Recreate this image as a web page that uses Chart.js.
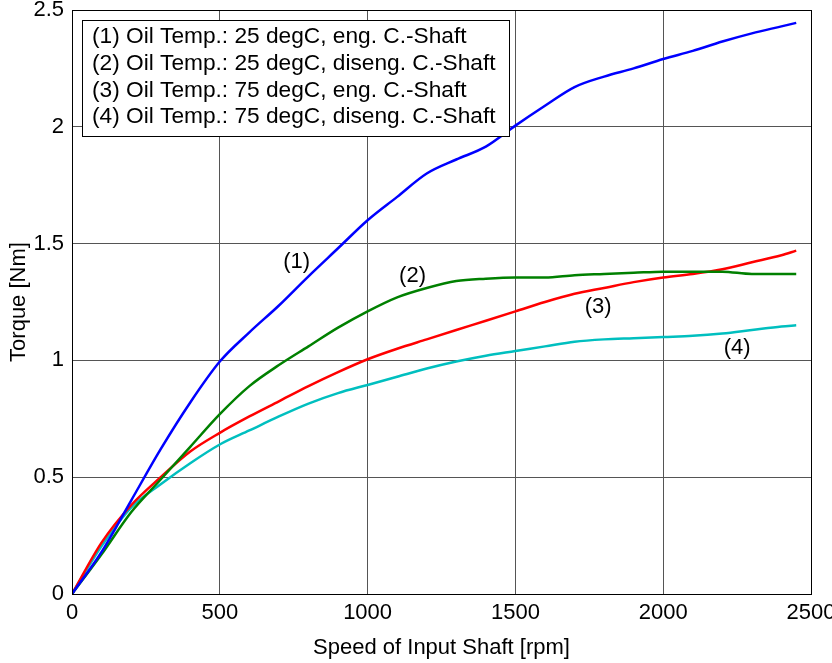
<!DOCTYPE html>
<html>
<head>
<meta charset="utf-8">
<script src="https://cdn.jsdelivr.net/npm/chart.js@4/dist/chart.umd.min.js"></script>
<style>
  html, body { margin: 0; padding: 0; background: #fff; }
  #wrap { width: 832px; height: 663px; position: relative; }
</style>
</head>
<body>
<div id="wrap"><canvas id="chart"></canvas></div>
<script>
// speed of input shaft [rpm]
const speeds = [0, 100, 200, 300, 400, 500, 600, 700, 800, 900, 1000, 1100, 1200, 1300,
                1400, 1500, 1600, 1700, 1800, 1900, 2000, 2100, 2200, 2300, 2400, 2450];

// torque [Nm]
const torque1 = [0, 0.18, 0.40, 0.62, 0.82, 0.995, 1.12, 1.235, 1.36, 1.48, 1.60, 1.70, 1.80, 1.86,
                 1.915, 2.005, 2.09, 2.17, 2.215, 2.25, 2.29, 2.325, 2.365, 2.40, 2.43, 2.445];
const torque2 = [0, 0.17, 0.35, 0.49, 0.63, 0.77, 0.89, 0.98, 1.06, 1.14, 1.21, 1.27, 1.31, 1.34,
                 1.35, 1.355, 1.355, 1.365, 1.37, 1.375, 1.38, 1.38, 1.38, 1.37, 1.37, 1.37];
const torque3 = [0, 0.22, 0.38, 0.50, 0.61, 0.69, 0.76, 0.825, 0.89, 0.95, 1.005, 1.05, 1.09, 1.13,
                 1.17, 1.21, 1.25, 1.285, 1.31, 1.335, 1.355, 1.37, 1.39, 1.42, 1.45, 1.47];
const torque4 = [0, 0.205, 0.37, 0.47, 0.56, 0.64, 0.70, 0.76, 0.815, 0.86, 0.895, 0.93, 0.965, 0.995,
                 1.02, 1.04, 1.06, 1.08, 1.09, 1.095, 1.10, 1.105, 1.115, 1.13, 1.145, 1.15];

const seriesLabels = [
  '(1) Oil Temp.: 25 degC, eng. C.-Shaft',
  '(2) Oil Temp.: 25 degC, diseng. C.-Shaft',
  '(3) Oil Temp.: 75 degC, eng. C.-Shaft',
  '(4) Oil Temp.: 75 degC, diseng. C.-Shaft',
];
const seriesColors = ['#0000ff', '#008000', '#ff0000', '#00bfbf'];

// curve tags inside the plot, in data coordinates
const tagTexts = ['(1)', '(2)', '(3)', '(4)'];
const tagX = [760, 1152, 1780, 2250];
const tagY = [1.42, 1.36, 1.23, 1.055];

const xTicks = [0, 500, 1000, 1500, 2000, 2500];
const yTicks = [0, 0.5, 1, 1.5, 2, 2.5];

const FONT = '"Liberation Sans", Arial, Helvetica, sans-serif';
Chart.defaults.font.family = FONT;
Chart.defaults.color = '#000';

function pts(ys) {
  return speeds.map((x, i) => ({ x, y: ys[i] }));
}

const datasets = [torque1, torque2, torque3, torque4].map((ys, i) => ({
  label: seriesLabels[i],
  data: pts(ys),
  borderColor: seriesColors[i],
  backgroundColor: seriesColors[i],
  borderWidth: 2.5,
  pointRadius: 0,
  fill: false,
  cubicInterpolationMode: 'monotone',
}));

// box around plot + curve tags + legend box
const decorPlugin = {
  id: 'decor',
  afterDatasetsDraw(chart) {
    const { ctx, chartArea: a, scales: { x, y } } = chart;
    ctx.save();

    ctx.strokeStyle = '#000';
    ctx.lineWidth = 1;
    ctx.strokeRect(a.left + 0.5, a.top + 0.5, a.right - a.left, a.bottom - a.top);

    ctx.font = '22px ' + FONT;
    ctx.fillStyle = '#000';
    ctx.textAlign = 'center';
    ctx.textBaseline = 'middle';
    tagTexts.forEach((t, i) => {
      ctx.fillText(t, x.getPixelForValue(tagX[i]), y.getPixelForValue(tagY[i]));
    });

    // legend (text only, like the original)
    const bx = a.left + 10, by = a.top + 10, bw = 427, bh = 116;
    ctx.fillStyle = '#fff';
    ctx.fillRect(bx, by, bw, bh);
    ctx.strokeStyle = '#000';
    ctx.strokeRect(bx + 0.5, by + 0.5, bw, bh);
    ctx.fillStyle = '#000';
    ctx.textAlign = 'left';
    ctx.font = '22.7px ' + FONT;
    chart.data.datasets.forEach((ds, i) => {
      ctx.fillText(ds.label, bx + 10, by + 17 + i * 26.7);
    });
    ctx.restore();
  }
};

new Chart(document.getElementById('chart'), {
  type: 'line',
  data: { datasets },
  plugins: [decorPlugin],
  options: {
    responsive: true,
    maintainAspectRatio: false,
    animation: false,
    layout: { padding: { left: 0, top: 10, right: 21, bottom: 0 } },
    plugins: {
      legend: { display: false },
      tooltip: { enabled: false },
    },
    scales: {
      x: {
        type: 'linear',
        min: 0,
        max: 2500,
        afterBuildTicks: s => { s.ticks = xTicks.map(v => ({ value: v })); },
        afterFit: s => { s.height = 69; s.paddingLeft = 0; s.paddingRight = 0; },
        grid: { color: '#555', lineWidth: 1, drawTicks: false },
        border: { color: '#000' },
        ticks: { font: { size: 22 }, padding: 6, maxRotation: 0, callback: v => String(v) },
        title: { display: true, text: 'Speed of Input Shaft [rpm]', font: { size: 22 }, padding: { top: 0, bottom: 2 } },
      },
      y: {
        min: 0,
        max: 2.5,
        afterBuildTicks: s => { s.ticks = yTicks.map(v => ({ value: v })); },
        afterFit: s => { s.width = 72; s.paddingTop = 0; s.paddingBottom = 0; },
        grid: { color: '#555', lineWidth: 1, drawTicks: false },
        border: { color: '#000' },
        ticks: { font: { size: 22 }, padding: 8, callback: v => String(v) },
        title: { display: true, text: 'Torque [Nm]', font: { size: 22 }, padding: { top: 6, bottom: 0 } },
      },
    },
  },
});
</script>
</body>
</html>
